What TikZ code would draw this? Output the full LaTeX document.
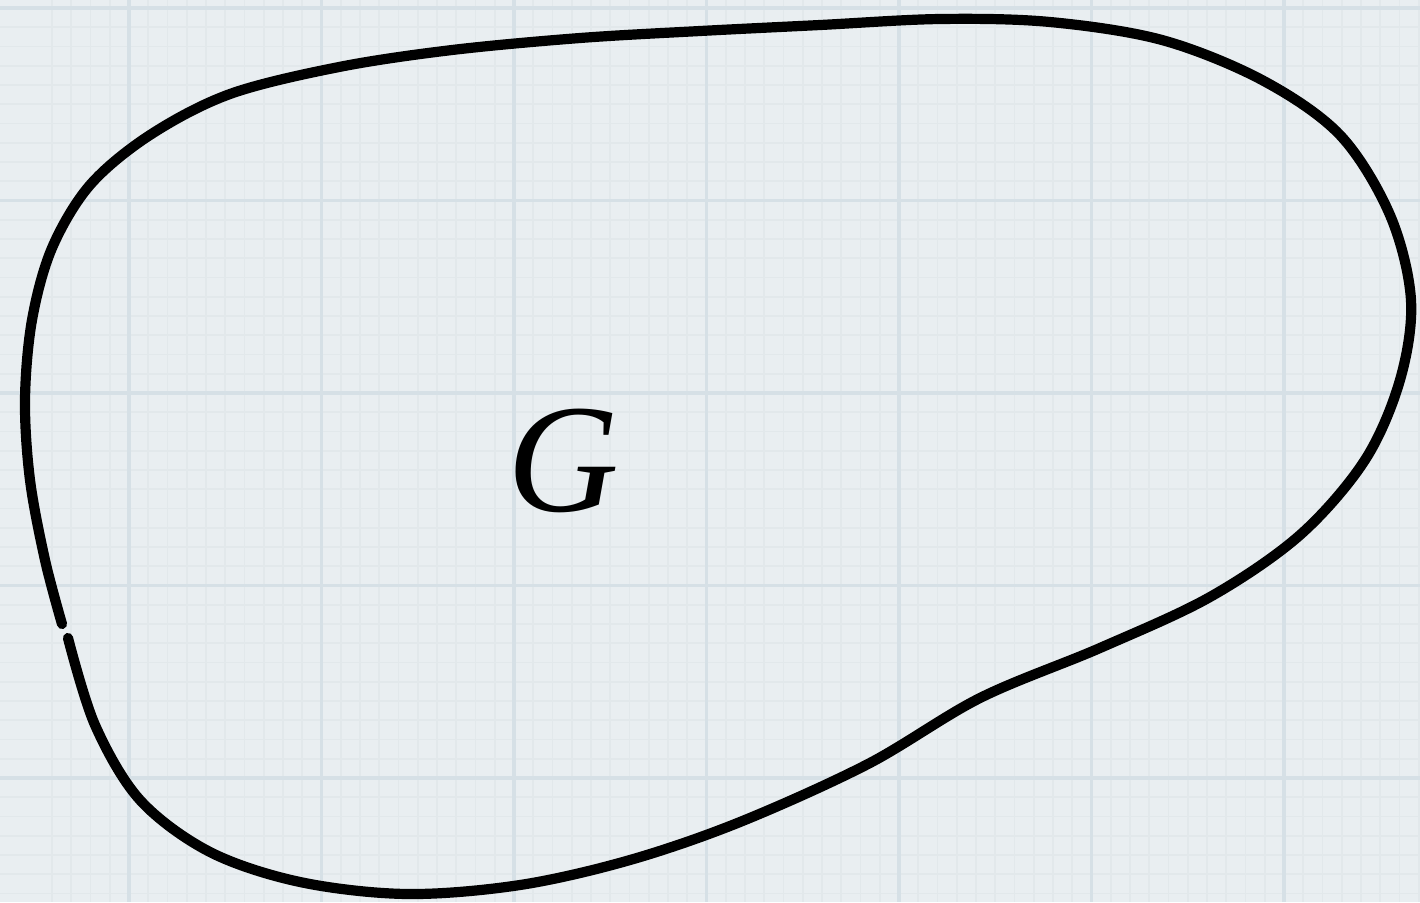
\documentclass[tikz,border=0pt]{standalone}
\usepackage{xcolor}
\usepackage{fontspec}
\usepackage{tikz}
\newfontfamily\labelfont{Liberation Serif}
\definecolor{paperc}{HTML}{E9EEF1}
\definecolor{majorc}{HTML}{D6E0E6}
\definecolor{minorc}{HTML}{E2E8EB}

\begin{document}
\begin{tikzpicture}[x=0.01cm, y=-0.01cm,
    minorline/.style={minorc, line width=0.5pt},
    majorline/.style={majorc, line width=1pt},
    blobline/.style={black, line width=2.9pt, line cap=round, line join=round}]
  \fill[paperc] (0,0) rectangle (1420,902);
  \useasboundingbox (0,0) rectangle (1420,902);
  \foreach \k in {-4,...,74} {
    \draw[minorline] ({129+19.25*\k},0) -- ({129+19.25*\k},902);
  }
  \foreach \k in {-1,...,47} {
    \draw[minorline] (0,{8+19.25*\k}) -- (1420,{8+19.25*\k});
  }
  \foreach \k in {0,...,6} {
    \draw[majorline] ({129+192.5*\k},0) -- ({129+192.5*\k},902);
  }
  \foreach \k in {0,...,4} {
    \draw[majorline] (0,{8+192.5*\k}) -- (1420,{8+192.5*\k});
  }
  \draw[blobline] plot[smooth, tension=0.55] coordinates {
    (68,638) (95,725) (140,800) (210,852) (300,882) (407,894) (520,885)
    (630,860) (740,822) (868,764) (980,698) (1100,648) (1210,597)
    (1300,535) (1365,460) (1400,380) (1411,300) (1390,215) (1340,135)
    (1262,80) (1162,40) (1050,22) (940,19) (820,25) (700,31) (580,38)
    (452,50) (339,67) (230,94) (150,135) (90,185) (52,248) (32,320)
    (25,400) (30,480) (45,560) (62,624)};
  \node[font=\labelfont\itshape\fontsize{44}{44}\selectfont] (g) at (563,461) {G};
\end{tikzpicture}
\end{document}
